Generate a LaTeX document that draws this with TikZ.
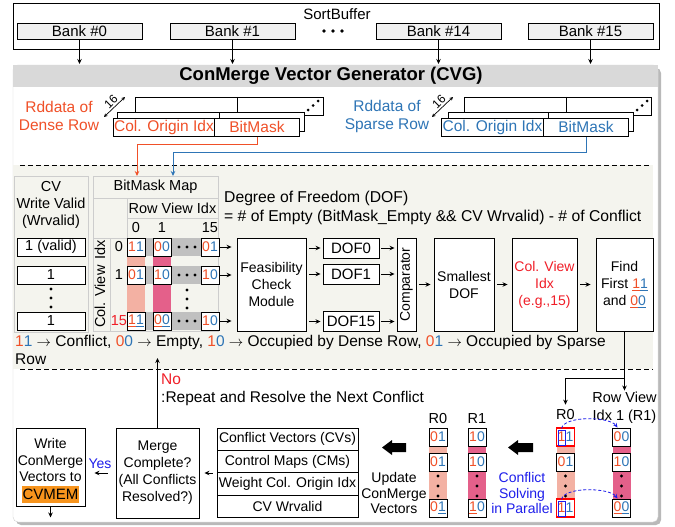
\documentclass[tikz,border=0pt]{standalone}
\usepackage{fontspec}
\setmainfont{Liberation Sans}
\usetikzlibrary{arrows.meta,calc}
\definecolor{dred}{RGB}{240,80,40}
\definecolor{sblue}{RGB}{46,117,182}
\definecolor{hred}{RGB}{240,30,40}
\definecolor{pblue}{RGB}{30,30,235}
\definecolor{salmon}{RGB}{243,177,163}
\definecolor{rose}{RGB}{228,96,138}
\definecolor{bandg}{RGB}{192,192,192}
\definecolor{beige}{RGB}{244,244,238}
\definecolor{hdr}{RGB}{217,217,217}
\definecolor{cvorange}{RGB}{247,148,29}
\definecolor{gridc}{RGB}{205,205,205}
\newcommand{\fsz}[2]{\fontsize{#1}{#2}\selectfont}
\newcommand{\twob}[2]{\textcolor{dred}{#1}\textcolor{sblue}{#2}}
\newcommand{\utwob}[2]{\textcolor{dred}{\underline{#1}}\textcolor{sblue}{\underline{#2}}}
\tikzset{
 lw/.style={line width=0.9pt},
 arr/.style={line width=0.9pt,-{Stealth[length=5pt,width=4.5pt]}},
 blk/.style={draw,line width=0.9pt,fill=white,inner sep=0pt,align=center,font=\fsz{14}{17}},
 bank/.style={draw,line width=0.8pt,fill=gray!12,minimum width=125,minimum height=16,inner sep=0pt,font=\fsz{15}{15}},
 cell/.style={draw,line width=0.9pt,fill=white,minimum width=18,minimum height=18,inner sep=0pt,font=\fsz{14}{14}},
 rcell/.style={cell,draw=red,line width=1.2pt},
 txt/.style={inner sep=0pt,align=center},
 gridl/.style={draw=gridc,line width=0.7pt},
 tbrow/.style={draw,line width=0.9pt,fill=white,minimum width=141,minimum height=22.3,inner sep=0pt,font=\fsz{14}{14}},
 dofbox/.style={blk,minimum width=56,minimum height=20,font=\fsz{15}{15}},
 tallbox/.style={blk,minimum height=93},
}
\begin{document}
\begin{tikzpicture}[x=1pt,y=-1pt]
\useasboundingbox (0,0) rectangle (675,527);
% ---------------- SortBuffer
\draw[line width=0.8pt] (13,3) rectangle (659,49);
\node[txt,font=\fsz{15}{15}] (sbt) at (337,14) {SortBuffer};
\node[bank] (b0) at (79.5,31) {Bank \#0};
\node[bank] (b1) at (232.5,31) {Bank \#1};
\node[bank] (b14) at (438.5,31) {Bank \#14};
\node[bank] (b15) at (590.5,31) {Bank \#15};
\foreach \xx in {324,333,342} \fill (\xx,31) circle (1.8pt);
% ---------------- CVG frame
\fill[gray!55,rounded corners=5pt] (16,68) rectangle (661,525);
\filldraw[fill=white,draw=gray!35,rounded corners=5pt] (13,65) rectangle (658,522);
\fill[hdr] (13,65) rectangle (658,87);
\node[txt,font=\bfseries\fsz{18.5}{18.5}] (cvg) at (331,76) {ConMerge Vector Generator (CVG)};
\coordinate (cvgtop) at (0,64);
\foreach \b in {b0,b1,b14,b15} \draw[arr] (\b.south) -- (\b.south |- cvgtop);
% beige region
\fill[beige] (13,165) rectangle (653,369);
\draw[line width=0.8pt,dash pattern=on 5pt off 3pt] (20,165) -- (650,165);
\draw[line width=0.8pt,dash pattern=on 5pt off 3pt] (20,369) -- (653,369);
% ---------------- Rddata dense
\node[txt,text=dred,font=\fsz{15.5}{18}] (dlab) at (59,116) {Rddata of\\Dense Row};
\filldraw[fill=white,lw] (135,97) rectangle (323,115); \draw[lw] (237,97) -- (237,115);
\foreach \dx/\dy in {308/110,313/105.5,318/101} \fill (\dx,\dy) circle (1.5pt);
\filldraw[fill=white,lw] (117,112) rectangle (304,131); \draw[lw] (219,112) -- (219,131);
\node[blk,anchor=north west,minimum width=101,minimum height=18,text=dred,font=\fsz{15.5}{15.5}] (dcoi) at (113,118) {Col. Origin Idx};
\node[blk,anchor=north west,minimum width=85,minimum height=18,text=dred,font=\fsz{15.5}{15.5}] (dbm) at (214,118) {BitMask};
\draw[<->,>={Stealth[length=3.5pt,width=3.5pt]},line width=0.7pt] (104,117) -- (125,97);
\node[txt,rotate=45,font=\fsz{12}{12}] (d16) at (111,102) {16};
% ---------------- Rddata sparse
\node[txt,text=sblue,font=\fsz{15.5}{18}] (slab) at (387,116) {Rddata of\\Sparse Row};
\filldraw[fill=white,lw] (464,97) rectangle (651,115); \draw[lw] (566,97) -- (566,115);
\foreach \dx/\dy in {637/110,642/105.5,647/101} \fill (\dx,\dy) circle (1.5pt);
\filldraw[fill=white,lw] (448,112) rectangle (633,131); \draw[lw] (548,112) -- (548,131);
\node[blk,anchor=north west,minimum width=102,minimum height=18,text=sblue,font=\fsz{15.5}{15.5}] (scoi) at (441,118) {Col. Origin Idx};
\node[blk,anchor=north west,minimum width=85,minimum height=18,text=sblue,font=\fsz{15.5}{15.5}] (sbm) at (543,118) {BitMask};
\draw[<->,>={Stealth[length=3.5pt,width=3.5pt]},line width=0.7pt] (432,117) -- (453,97);
\node[txt,rotate=45,font=\fsz{12}{12}] (s16) at (439,102) {16};
% ---------------- CV write valid column
\draw[gridl] (14,176) rectangle (88,332);
\node[txt,font=\fsz{14.5}{17}] (cvh) at (51,205) {CV\\Write Valid\\(Wrvalid)};
\node[blk,minimum width=68,minimum height=18,font=\fsz{14.5}{14.5}] (v0) at (51,247) {1 (valid)};
\node[blk,minimum width=68,minimum height=18,font=\fsz{14.5}{14.5}] (v1) at (51,275) {1};
\node[blk,minimum width=68,minimum height=18,font=\fsz{14.5}{14.5}] (v15) at (51,321) {1};
\foreach \yy in {289,298,307} \fill (51,\yy) circle (1.6pt);
% ---------------- BitMask map
\node[draw=gridc,line width=0.7pt,minimum width=125,minimum height=155,anchor=north west,inner sep=0pt] (bmap) at (93,176) {};
\draw[gridl] (93,198) -- (218,198);
\draw[gridl] (127,198) -- (127,238);
\draw[gridl] (127,218) -- (218,218);
\draw[gridl] (93,238) -- (218,238);
\draw[gridl] (110,238) -- (110,331);
\node[txt,font=\fsz{14.5}{14.5}] (bmt) at (155.5,187) {BitMask Map};
\node[txt,font=\fsz{14.5}{14.5}] (rvi) at (172.5,208) {Row View Idx};
\node[txt,font=\fsz{14.5}{14.5}] (h0) at (136,228) {0};
\node[txt,font=\fsz{14.5}{14.5}] (h1) at (162,228) {1};
\node[txt,font=\fsz{14.5}{14.5}] (h15) at (210,228) {15};
\node[txt,rotate=90,font=\fsz{14.5}{14.5}] (cvi) at (100,284) {Col. View\hspace{6pt}Idx};
\node[txt,font=\fsz{14.5}{14.5}] (r0n) at (119,247) {0};
\node[txt,font=\fsz{14.5}{14.5}] (r1n) at (119,275) {1};
\node[txt,text=hred,font=\fsz{14.5}{14.5}] (r15n) at (119,321) {15};
\foreach \yy in {247,275,321} \fill[bandg] (145,\yy-9) rectangle (201,\yy+9);
\fill[salmon] (127,256) rectangle (145,312);
\fill[rose] (153,256) rectangle (171,312);
\foreach \yy in {247,275,321} \foreach \xx in {179,187,195} \fill (\xx,\yy) circle (1.6pt);
\foreach \yy in {290,299,308} \fill (187,\yy) circle (1.6pt);
\node[cell] (c00) at (136,247) {\twob11};
\node[cell] (c01) at (162,247) {\twob00};
\node[cell] (c015) at (210,247) {\twob01};
\node[cell] (c10) at (136,275) {\twob01};
\node[cell] (c11) at (162,275) {\twob10};
\node[cell] (c115) at (210,275) {\twob10};
\node[cell] (c150) at (136,321) {\utwob11};
\node[cell] (c151) at (162,321) {\utwob00};
\node[cell] (c1515) at (210,321) {\twob10};
\coordinate (dredin) at (137,176);
\coordinate (sbluein) at (173,176);
\draw[arr,draw=dred] (dbm.south) -- ++(0,8) -| (dredin);
\draw[arr,draw=sblue] (sbm.south) -- ++(0,16) -| (sbluein);
% ---------------- DOF text
\node[txt,anchor=west,font=\fsz{15.7}{15.7}] (dof1t) at (224,198) {Degree of Freedom (DOF)};
\node[txt,anchor=west,font=\fsz{15.7}{15.7}] (dof2t) at (224,217) {= \# of Empty (BitMask\_Empty \&\& CV Wrvalid) - \# of Conflict};
% ---------------- pipeline
\node[tallbox,minimum width=69] (feas) at (271.5,284.5) {Feasibility\\Check\\Module};
\node[dofbox] (dof0) at (351,248) {DOF0};
\node[dofbox] (dof1) at (351,274) {DOF1};
\node[dofbox] (dof15) at (351,321.5) {DOF15};
\node[tallbox,minimum width=19] (comp) at (406.5,284.5) {};
\node[txt,rotate=90,font=\fsz{14}{14}] (compt) at (comp.center) {Comparator};
\node[tallbox,minimum width=60] (small) at (464,284.5) {Smallest\\DOF};
\node[tallbox,minimum width=65,text=hred] (cvx) at (544.5,284.5) {Col. View\\Idx\\(e.g.,15)};
\node[tallbox,minimum width=57] (find) at (624.5,284.5) {Find\\First \utwob11\\and \utwob00};
\foreach \c in {c015,c115,c1515} \draw[arr,shorten >=5pt] (\c.east) -- (feas.west |- \c.east);
\foreach \d in {dof0,dof1,dof15} {
  \draw[arr,shorten <=3pt,shorten >=2pt] (feas.east |- \d.west) -- (\d.west);
  \draw[arr,shorten <=2pt,shorten >=2pt] (\d.east) -- (comp.west |- \d.east);
}
\draw[arr,shorten <=3pt,shorten >=3pt] (comp.east) -- (small.west);
\draw[arr,shorten <=3pt,shorten >=4pt] (small.east) -- (cvx.west);
\draw[arr,shorten <=3pt,shorten >=5pt] (cvx.east) -- (find.west);
% legend
\node[txt,anchor=west,align=left,font=\fsz{15.5}{18}] (leg) at (15,350) {\twob11 $\rightarrow$ Conflict, \twob00 $\rightarrow$ Empty, \twob10 $\rightarrow$ Occupied by Dense Row, \twob01 $\rightarrow$ Occupied by Sparse\\Row};
% ---------------- bottom: right group
\node[txt,font=\fsz{14.5}{18}] (rv) at (624.5,407.5) {Row View\\Idx 1 (R1)};
\node[txt,font=\fsz{14.5}{14.5}] (rr0) at (565.5,415) {R0};
\coordinate (brk) at (0,378);
\draw[arr,shorten >=1pt] (find.south) -- (rv.north);
\draw[arr,shorten >=5pt] (find.south |- brk) -| (rr0.north);
\fill[salmon] (556.5,446) rectangle (574.5,499);
\fill[rose] (612.5,446) rectangle (630.5,499);
\foreach \yy in {476,486,496} {\fill (565.5,\yy) circle (1.6pt); \fill (621.5,\yy) circle (1.6pt);}
\node[rcell] (ra0) at (565.5,437) {\twob11};
\node[cell] (ra1) at (565.5,462) {\twob01};
\node[rcell] (ra2) at (565.5,508) {\twob11};
\node[cell] (rb0) at (621.5,437) {\twob00};
\node[cell] (rb1) at (621.5,462) {\twob10};
\node[cell] (rb2) at (621.5,508) {\utwob00};
\draw[pblue,line width=0.8pt] (558,430) rectangle (565.2,445);
\draw[pblue,line width=0.8pt] (558,501) rectangle (565.2,516);
\draw[pblue,line width=0.8pt,dash pattern=on 3pt off 2pt,-{Stealth[length=4.5pt,width=4pt]}] ($(ra0.north)+(-4,1)$) .. controls +(3,-13) and +(-8,-11) .. ($(rb0.north)+(-4,0)$);
\draw[pblue,line width=0.8pt,dash pattern=on 3pt off 2pt,-{Stealth[length=4.5pt,width=4pt]}] ($(ra2.north)+(-4,1)$) .. controls +(3,-13) and +(-8,-11) .. ($(rb2.north)+(-4,0)$);
\node[txt,text=pblue,font=\fsz{14}{15.5}] (csp) at (522,493) {Conflict\\Solving\\in Parallel};
\fill (533,443) -- (518,443) -- (518,440) -- (508,447.5) -- (518,455) -- (518,452) -- (533,452) -- cycle;
% ---------------- bottom: left group
\node[txt,font=\fsz{14.5}{14.5}] (lr0) at (438,419) {R0};
\node[txt,font=\fsz{14.5}{14.5}] (lr1) at (477,419) {R1};
\fill[salmon] (429,446) rectangle (447,499);
\fill[rose] (468,446) rectangle (486,499);
\foreach \yy in {476,486,496} {\fill (438,\yy) circle (1.6pt); \fill (477,\yy) circle (1.6pt);}
\node[cell] (la0) at (438,437) {\twob01};
\node[cell] (la1) at (438,462) {\twob01};
\node[cell] (la2) at (438,508) {\textcolor{dred}{0}\textcolor{sblue}{\underline{1}}};
\node[cell] (lb0) at (477,437) {\twob10};
\node[cell] (lb1) at (477,462) {\twob10};
\node[cell] (lb2) at (477,508) {\textcolor{dred}{\underline{1}}\textcolor{sblue}{0}};
\node[txt,font=\fsz{14}{15.5}] (upd) at (394,493) {Update\\ConMerge\\Vectors};
\fill (406,443) -- (392,443) -- (392,440) -- (382,447.5) -- (392,455) -- (392,452) -- (406,452) -- cycle;
% ---------------- table, merge, write
\node[tbrow] (t1) at (287.5,439.2) {Conflict Vectors (CVs)};
\node[tbrow] (t2) at (287.5,461.5) {Control Maps (CMs)};
\node[tbrow] (t3) at (287.5,483.8) {Weight Col. Origin Idx};
\node[tbrow] (t4) at (287.5,506.1) {CV Wrvalid};
\node[blk,minimum width=83,minimum height=90] (merge) at (157.5,473) {Merge\\Complete?\\(All Conflicts\\Resolved?)};
\node[blk,minimum width=69,minimum height=78] (wr) at (50.5,467) {};
\node[txt,font=\fsz{14}{16.5}] (wrt) at (50.5,460) {Write\\ConMerge\\Vectors to};
\node[fill=cvorange,minimum width=57,minimum height=17,inner sep=0pt,font=\fsz{15}{15}] (cvmem) at (50.5,494.5) {CVMEM};
\draw[arr,shorten <=4pt,shorten >=5pt] (merge.east -| t1.west) -- (merge.east);
\draw[arr,shorten <=8pt,shorten >=9pt] (merge.west) -- (wr.east |- merge.west);
\node[txt,text=pblue,font=\fsz{14}{14}] (yes) at (100,464) {Yes};
\coordinate (noend) at (157.5,358);
\draw[arr] (merge.north) -- (noend);
\node[txt,anchor=west,text=hred,font=\fsz{15.5}{15.5}] (no) at (161,379) {No};
\node[txt,anchor=west,font=\fsz{15.5}{15.5}] (rep) at (161,398) {:Repeat and Resolve the Next Conflict};
\draw[arr] (wr.south) -- ++(0,11);
\end{tikzpicture}
\end{document}
